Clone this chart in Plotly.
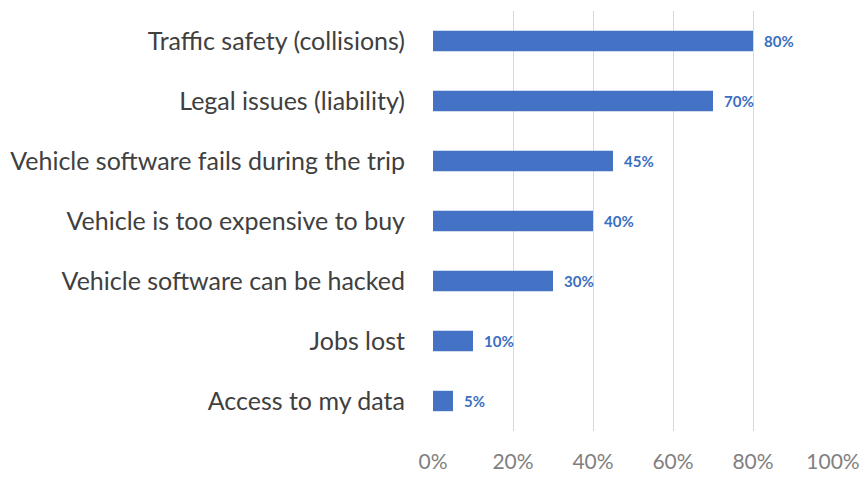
import plotly.graph_objects as go

categories = [
    "Traffic safety (collisions)",
    "Legal issues (liability)",
    "Vehicle software fails during the trip",
    "Vehicle is too expensive to buy",
    "Vehicle software can be hacked",
    "Jobs lost",
    "Access to my data",
]
shares = [80, 70, 45, 40, 30, 10, 5]
x_ticks = [0, 20, 40, 60, 80, 100]
x_tick_labels = ["0%", "20%", "40%", "60%", "80%", "100%"]

bar_color = "#4472C4"
label_font = "Lato, Open Sans, sans-serif"

fig = go.Figure(
    go.Bar(
        x=shares,
        y=categories,
        orientation="h",
        width=0.34,
        marker=dict(color=bar_color, line=dict(width=0)),
        hoverinfo="skip",
    )
)

# value labels just right of each bar end
for cat, val in zip(categories, shares):
    fig.add_annotation(
        x=val, y=cat, text=f"<b>{val}%</b>", showarrow=False,
        xanchor="left", xshift=9,
        font=dict(family=label_font, size=15, color="#3A6FC0"),
    )

fig.update_layout(
    width=868, height=479,
    margin=dict(l=433, r=35, t=11, b=48),
    paper_bgcolor="white", plot_bgcolor="white",
    showlegend=False,
    font=dict(family=label_font),
)
fig.update_xaxes(
    range=[0, 100], tickvals=x_ticks, ticktext=x_tick_labels,
    showgrid=True, gridcolor="#D9D9D9", gridwidth=1,
    zeroline=False, showline=False, automargin=False,
    ticks="outside", ticklen=12, tickcolor="rgba(0,0,0,0)",
    tickfont=dict(size=21, color="#7F7F7F"),
)
fig.update_yaxes(
    categoryorder="array", categoryarray=categories[::-1],
    showgrid=False, zeroline=False, showline=False, automargin=False,
    ticks="outside", ticklen=22, tickcolor="rgba(0,0,0,0)",
    tickfont=dict(size=25, color="#404040"),
)

fig.write_html("out.html")
